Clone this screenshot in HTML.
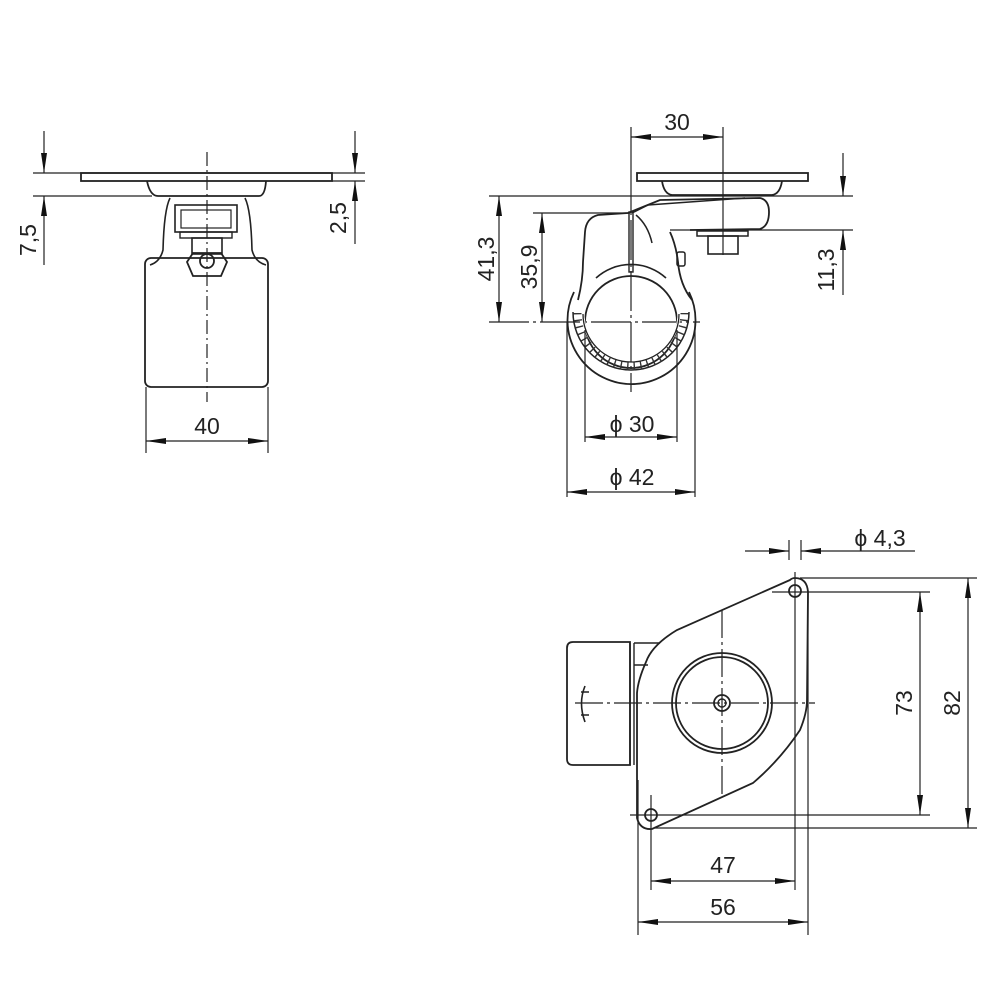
<!DOCTYPE html>
<html><head><meta charset="utf-8"><style>
html,body{margin:0;padding:0;background:#fff}
svg{display:block}
text{font-family:"Liberation Sans Narrow","Liberation Sans",sans-serif;font-size:23px;fill:#222}
</style></head><body>
<svg width="1000" height="1000" viewBox="0 0 1000 1000" xmlns="http://www.w3.org/2000/svg">
<defs>
<marker id="a" viewBox="0 0 20 6" refX="20" refY="3" markerWidth="20" markerHeight="6" markerUnits="userSpaceOnUse" orient="auto-start-reverse"><path d="M0,0 L20,3 L0,6z" fill="#111"/></marker>
</defs>
<g fill="none" stroke="#222" stroke-width="1.2">
<!-- VIEW 1 -->
<line x1="33" y1="173" x2="365" y2="173"/>
<line x1="33" y1="196" x2="152" y2="196"/>
<line x1="332" y1="181" x2="365" y2="181"/>
<line x1="44" y1="131" x2="44" y2="173" marker-end="url(#a)"/>
<line x1="44" y1="265" x2="44" y2="196" marker-end="url(#a)"/>
<line x1="355" y1="131" x2="355" y2="173" marker-end="url(#a)"/>
<line x1="355" y1="244" x2="355" y2="181" marker-end="url(#a)"/>
<rect x="81" y="173" width="251" height="8" stroke-width="1.8"/>
<path d="M147,181 Q150,196 158,196 L259,196 Q265,196 266,181" stroke-width="1.8"/>
<path d="M170,198 Q164,210 163,250 Q160,262 150,265 M245,198 Q251,210 252,250 Q255,262 266,265" stroke-width="1.6"/>
<rect x="145" y="258" width="123" height="129" rx="6" stroke-width="1.8"/>
<rect x="175" y="205" width="62" height="27" stroke-width="1.6"/>
<rect x="181" y="210" width="50" height="18" stroke-width="1.2"/>
<rect x="180" y="232" width="52" height="6" stroke-width="1.4"/>
<rect x="192" y="238" width="30" height="16" stroke-width="1.6"/>
<path d="M193,253 L221,253 L227,262 L221,276 L193,276 L187,262z" stroke-width="1.8"/>
<circle cx="207" cy="261" r="7" stroke-width="1.8"/>
<line x1="207" y1="152" x2="207" y2="402" stroke-dasharray="14 4 2 4"/>
<line x1="146" y1="387" x2="146" y2="453"/>
<line x1="268" y1="387" x2="268" y2="453"/>
<line x1="207" y1="441" x2="146" y2="441" marker-end="url(#a)"/>
<line x1="207" y1="441" x2="268" y2="441" marker-end="url(#a)"/>

<!-- VIEW 2 -->
<line x1="631" y1="127" x2="631" y2="215"/>
<line x1="723" y1="127" x2="723" y2="255"/>
<line x1="677" y1="137" x2="631" y2="137" marker-end="url(#a)"/>
<line x1="677" y1="137" x2="723" y2="137" marker-end="url(#a)"/>
<rect x="637" y="173" width="171" height="8" stroke-width="1.8"/>
<path d="M662,181 Q664,194 672,195 L772,195 Q780,194 782,181" stroke-width="1.8"/>
<line x1="489" y1="196" x2="853" y2="196"/>
<line x1="533" y1="213" x2="630" y2="213"/>
<line x1="670" y1="230" x2="853" y2="230"/>
<line x1="489" y1="322" x2="700" y2="322" stroke-dasharray="40 4 3 4"/>
<line x1="499" y1="259" x2="499" y2="196" marker-end="url(#a)"/>
<line x1="499" y1="259" x2="499" y2="322" marker-end="url(#a)"/>
<line x1="542" y1="267" x2="542" y2="213" marker-end="url(#a)"/>
<line x1="542" y1="267" x2="542" y2="322" marker-end="url(#a)"/>
<line x1="843" y1="153" x2="843" y2="196" marker-end="url(#a)"/>
<line x1="843" y1="295" x2="843" y2="230" marker-end="url(#a)"/>
<path d="M578,300 Q583,280 583,262 L585,232 Q586,218 598,215 L628,213 L660,200 L760,198 Q769,200 769,212 Q769,226 760,229 L690,230" stroke-width="1.8"/>
<path d="M632,213 L648,205 L745,198 M636,215 Q648,225 652,243" stroke-width="1.5"/>
<path d="M670,232 Q676,245 678,262 Q680,285 692,300" stroke-width="1.8"/>
<rect x="677" y="252" width="8" height="14" rx="2" stroke-width="1.5"/>
<rect x="697" y="231" width="51" height="5" stroke-width="1.5"/>
<rect x="708" y="236" width="30" height="18" stroke-width="1.6"/>
<rect x="629" y="212" width="4" height="60" stroke-width="1.4"/>
<path d="M574,292 A64,64 0 1 0 689,292" stroke-width="1.8"/>
<path d="M596,278 A52,52 0 0 1 666,278" stroke-width="1.6"/>
<circle cx="631" cy="322" r="46" stroke-width="1.8"/>
<path d="M573,312 A58,58 0 1 0 689,312" stroke-width="1.5"/>
<path d="M578,313 A53,53 0 1 0 684,313" stroke-width="9" stroke="#333" stroke-dasharray="1.4 5.2"/>
<path d="M583,313 A48,48 0 1 0 679,313" stroke-width="3" stroke="#fff"/>
<path d="M583,314 A48,48 0 1 0 679,314" stroke-width="1.3"/>
<line x1="631" y1="220" x2="631" y2="392" stroke-dasharray="40 4 3 4"/>
<line x1="585" y1="330" x2="585" y2="442"/>
<line x1="677" y1="330" x2="677" y2="442"/>
<line x1="567" y1="322" x2="567" y2="497"/>
<line x1="695" y1="322" x2="695" y2="497"/>
<line x1="631" y1="437" x2="585" y2="437" marker-end="url(#a)"/>
<line x1="631" y1="437" x2="677" y2="437" marker-end="url(#a)"/>
<line x1="631" y1="492" x2="567" y2="492" marker-end="url(#a)"/>
<line x1="631" y1="492" x2="695" y2="492" marker-end="url(#a)"/>

<!-- VIEW 3 -->
<line x1="745" y1="551" x2="789" y2="551" marker-end="url(#a)"/>
<line x1="915" y1="551" x2="801" y2="551" marker-end="url(#a)"/>
<line x1="789" y1="540" x2="789" y2="560"/>
<line x1="801" y1="540" x2="801" y2="560"/>
<line x1="795" y1="572" x2="795" y2="890"/>
<line x1="808" y1="590" x2="808" y2="935"/>
<line x1="651" y1="795" x2="651" y2="890"/>
<line x1="638" y1="780" x2="638" y2="935"/>
<line x1="800" y1="578" x2="977" y2="578"/>
<line x1="772" y1="592" x2="930" y2="592"/>
<line x1="630" y1="815" x2="930" y2="815"/>
<line x1="655" y1="828" x2="977" y2="828"/>
<line x1="920" y1="703" x2="920" y2="592" marker-end="url(#a)"/>
<line x1="920" y1="703" x2="920" y2="815" marker-end="url(#a)"/>
<line x1="968" y1="703" x2="968" y2="578" marker-end="url(#a)"/>
<line x1="968" y1="703" x2="968" y2="828" marker-end="url(#a)"/>
<line x1="723" y1="881" x2="651" y2="881" marker-end="url(#a)"/>
<line x1="723" y1="881" x2="795" y2="881" marker-end="url(#a)"/>
<line x1="723" y1="922" x2="638" y2="922" marker-end="url(#a)"/>
<line x1="723" y1="922" x2="808" y2="922" marker-end="url(#a)"/>
<path d="M790,580 L677,630 Q652,645 646,662 Q638,680 637,693 L637,818 Q640,830 652,829 L753,783 Q780,760 800,730 Q807,713 807,700 L808,592 Q807,578 795,578 Q792,578 790,580z" stroke-width="1.8"/>
<circle cx="795" cy="591" r="6" stroke-width="1.8"/>
<circle cx="651" cy="815" r="6" stroke-width="1.8"/>
<circle cx="722" cy="703" r="50" stroke-width="1.8"/>
<circle cx="722" cy="703" r="46" stroke-width="1.8"/>
<circle cx="722" cy="703" r="8" stroke-width="1.8"/>
<circle cx="722" cy="703" r="4" stroke-width="1.4"/>
<path d="M630,642 L573,642 Q567,642 567,648 L567,759 Q567,765 573,765 L630,765z" stroke-width="1.8"/>
<path d="M630,643 L630,765 M634,643 L634,765 M634,643 L660,643 M634,665 L648,665" stroke-width="1.4"/>
<path d="M585,686 Q578,703 585,722 M581,692 L589,692 M581,715 L589,715" stroke-width="1.6"/>
<line x1="575" y1="703" x2="815" y2="703" stroke-dasharray="28 4 3 4"/>
<line x1="722" y1="610" x2="722" y2="797" stroke-dasharray="28 4 3 4"/>
</g>
<g>
<text x="28" y="240" text-anchor="middle" transform="rotate(-90 28 240)" dy="8">7,5</text>
<text x="338" y="218" text-anchor="middle" transform="rotate(-90 338 218)" dy="8">2,5</text>
<text x="207" y="434" text-anchor="middle">40</text>
<text x="677" y="130" text-anchor="middle">30</text>
<text x="486" y="259" text-anchor="middle" transform="rotate(-90 486 259)" dy="8">41,3</text>
<text x="529" y="267" text-anchor="middle" transform="rotate(-90 529 267)" dy="8">35,9</text>
<text x="826" y="270" text-anchor="middle" transform="rotate(-90 826 270)" dy="8">11,3</text>
<text x="632" y="432" text-anchor="middle">ϕ 30</text>
<text x="632" y="485" text-anchor="middle">ϕ 42</text>
<text x="880" y="546" text-anchor="middle">ϕ 4,3</text>
<text x="904" y="703" text-anchor="middle" transform="rotate(-90 904 703)" dy="8">73</text>
<text x="952" y="703" text-anchor="middle" transform="rotate(-90 952 703)" dy="8">82</text>
<text x="723" y="873" text-anchor="middle">47</text>
<text x="723" y="915" text-anchor="middle">56</text>
</g>
</svg>
</body></html>
